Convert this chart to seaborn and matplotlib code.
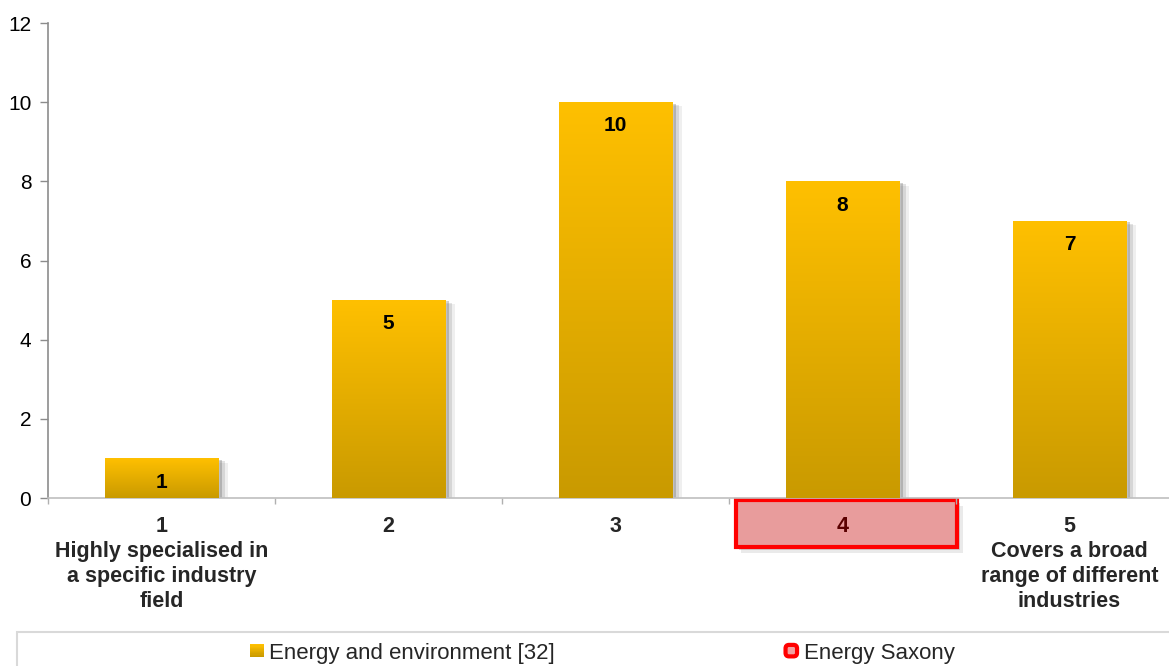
import numpy as np
import pandas as pd
import matplotlib
matplotlib.use("Agg")
import matplotlib.pyplot as plt
import matplotlib.patheffects as pe
from matplotlib.patches import Rectangle, FancyBboxPatch, Patch
from matplotlib.legend_handler import HandlerBase
from matplotlib.colors import LinearSegmentedColormap
import seaborn as sns

# Data
categories = ["1", "2", "3", "4", "5"]
values = [1, 5, 10, 8, 7]
tick_labels = [
    "1\nHighly specialised in\na specific industry\nfield",
    "2",
    "3",
    "4",
    "5\nCovers a broad\nrange of different\nindustries",
]
series_name = "Energy and environment [32]"
highlight_name = "Energy Saxony"
highlight_category = "4"
y_ticks = [0, 2, 4, 6, 8, 10, 12]

sns.set_theme(style="white")
plt.rcParams["font.family"] = ["Liberation Sans", "DejaVu Sans"]

GOLD_TOP = "#FFC000"
GOLD_BOTTOM = "#C99A00"
gold_cmap = LinearSegmentedColormap.from_list("gold", [GOLD_BOTTOM, GOLD_TOP])
AXIS_GRAY = "#8C8C8C"

fig = plt.figure(figsize=(11.69, 6.66), dpi=100)
ax = fig.add_axes([48 / 1169, 1 - 498 / 666, 1135 / 1169, 475 / 666])

df = pd.DataFrame({"category": categories, "value": values})
sns.barplot(data=df, x="category", y="value", order=categories,
            color=GOLD_BOTTOM, width=0.5, saturation=1, ax=ax, zorder=2)

# Soft drop shadow built from a few stacked, fading offsets
soft_shadow = [
    pe.SimplePatchShadow(offset=(7, -3), shadow_rgbFace="#666666", alpha=0.10),
    pe.SimplePatchShadow(offset=(5, -2), shadow_rgbFace="#666666", alpha=0.18),
    pe.SimplePatchShadow(offset=(3, -1), shadow_rgbFace="#555555", alpha=0.28),
    pe.Normal(),
]

# Gradient fill for each bar plus its value label
grad = np.linspace(0, 1, 256).reshape(-1, 1)
for patch, v in zip(ax.patches, values):
    patch.set_path_effects(soft_shadow)
    x0 = patch.get_x()
    w = patch.get_width()
    im = ax.imshow(grad, cmap=gold_cmap, origin="lower", aspect="auto",
                   extent=(x0, x0 + w, 0, patch.get_height()), zorder=3,
                   interpolation="bicubic")
    im.set_clip_path(patch)
    ax.text(x0 + w / 2, v - 0.6, f"{v}", ha="center", va="center",
            fontsize=15, fontweight="bold", color="black", zorder=4)

ax.set_xlim(-0.5, 4.5)
ax.set_ylim(0, 12)
ax.set_yticks(y_ticks)
ax.tick_params(axis="y", labelsize=15, colors="black", length=6, width=1,
               color=AXIS_GRAY, left=True, pad=6)
ax.set_xticks(range(len(categories)), tick_labels)
ax.set_xticks(np.arange(-0.5, 5, 1.0), minor=True)
ax.tick_params(axis="x", which="major", length=0, pad=13, labelsize=15.5)
ax.tick_params(axis="x", which="minor", length=4, width=1, color="#B0B0B0",
               bottom=True, direction="out")
for lbl in ax.get_xticklabels():
    lbl.set_fontweight("bold")
    lbl.set_linespacing(1.25)
    lbl.set_va("top")

ax.set_xlabel("")
ax.set_ylabel("")
sns.despine(ax=ax, top=True, right=True)
ax.spines["left"].set_color(AXIS_GRAY)
ax.spines["bottom"].set_color("#BFBFBF")
ax.spines["left"].set_linewidth(1.2)
ax.spines["bottom"].set_linewidth(1.2)

# Highlight box around the Energy Saxony category, kept beneath the tick labels
hi = categories.index(highlight_category)
box = Rectangle((hi - 0.47, -1.24), 0.975, 1.19, transform=ax.transData,
                facecolor="#E89C9C", edgecolor="#FF0000", linewidth=3,
                clip_on=False, zorder=0.2)
box.set_path_effects([
    pe.SimplePatchShadow(offset=(4, -4), shadow_rgbFace="#777777", alpha=0.15),
    pe.SimplePatchShadow(offset=(2, -2), shadow_rgbFace="#777777", alpha=0.25),
    pe.Normal(),
])
ax.add_patch(box)
ax.get_xticklabels()[hi].set_color("#5A0000")


# Legend handles
class GradientSquare(HandlerBase):
    def create_artists(self, legend, orig_handle, xdescent, ydescent,
                       width, height, fontsize, trans):
        n = 10
        side = height
        x0 = -xdescent + (width - side)
        arts = []
        for i in range(n):
            c = gold_cmap(1 - i / (n - 1))
            r = Rectangle((x0, -ydescent + side * (1 - (i + 1) / n)), side, side / n,
                          facecolor=c, edgecolor="none", transform=trans)
            arts.append(r)
        return arts


class RedSquare(HandlerBase):
    def create_artists(self, legend, orig_handle, xdescent, ydescent,
                       width, height, fontsize, trans):
        side = height * 0.85
        x0 = -xdescent + (width - side) - 1
        y0 = -ydescent + (height - side) / 2
        r = FancyBboxPatch((x0, y0), side, side,
                           boxstyle="round,pad=0,rounding_size=2.5",
                           facecolor="#F2A0A0", edgecolor="#FF0000",
                           linewidth=3, transform=trans)
        return [r]


h1 = Patch(label=series_name)
h2 = Patch(label=highlight_name)
fig.legend([h1, h2], [series_name, highlight_name],
           handler_map={h1: GradientSquare(), h2: RedSquare()},
           loc="center", bbox_to_anchor=(603 / 1169, 1 - 653 / 666),
           ncol=2, frameon=False, fontsize=16, handlelength=0.56,
           handleheight=0.56, handletextpad=0.25, columnspacing=10.4,
           borderaxespad=0)

fig.patches.append(Rectangle((17 / 1169, -0.01), 1.0, (666 - 632) / 666 + 0.01,
                             transform=fig.transFigure, fill=False,
                             edgecolor="#D9D9D9", linewidth=1.5))

fig.savefig("out.png", dpi=100)
